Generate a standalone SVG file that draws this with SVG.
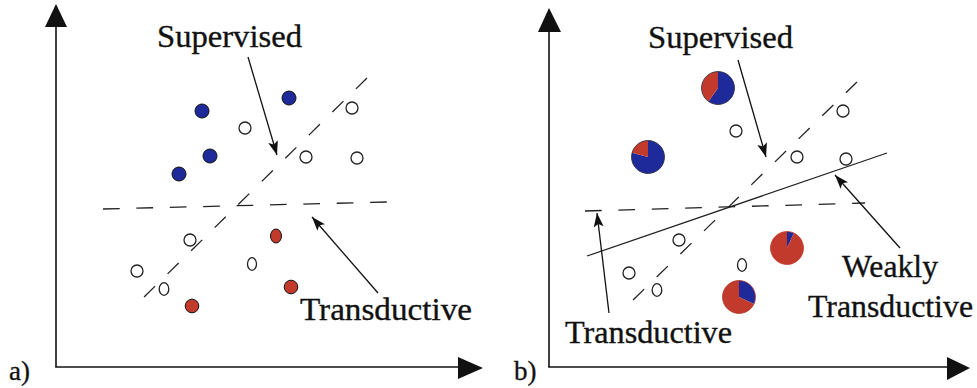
<svg xmlns="http://www.w3.org/2000/svg" width="977" height="388" viewBox="0 0 977 388">
<defs>
<style>
.ax{stroke:#111;stroke-width:1.6;fill:none}
.dash{stroke:#222;stroke-width:1.3;fill:none}
.dd{stroke-dasharray:15.5 17.5}
.dh{stroke-dasharray:16.7 16.7}
.sol{stroke:#222;stroke-width:1.3;fill:none}
.arr{stroke:#111;stroke-width:1.3;fill:none;marker-end:url(#ah)}
.open{fill:#fff;stroke:#222;stroke-width:1.3}
.blue{fill:#1f2a9a;stroke:#111;stroke-width:1}
.red{fill:#c23a2c;stroke:#111;stroke-width:1}
.pb{fill:#1f2a9a}
.pr{fill:#c23a2c}
.po{fill:none;stroke:#2a2a3a;stroke-width:0.8}
.t{font-family:"Liberation Serif","DejaVu Serif",serif;font-size:32px;fill:#111;stroke:#111;stroke-width:0.35}
.lab{font-family:"Liberation Serif","DejaVu Serif",serif;font-size:27px;fill:#111;stroke:#111;stroke-width:0.3}
.head{fill:#111}
</style>
<marker id="ah" markerUnits="userSpaceOnUse" markerWidth="16" markerHeight="12" refX="14" refY="5" orient="auto">
<path d="M0,0 L14,5 L0,10 L3,5 Z" fill="#111"/>
</marker>
</defs>

<g id="axes-a">
<line class="ax" x1="56" y1="25" x2="56" y2="367"/>
<line class="ax" x1="55.2" y1="367" x2="460" y2="367"/>
<polygon class="head" points="56,4 67,27 45,27"/>
<polygon class="head" points="483,368 458,357 458,379"/>
<text class="lab" x="9" y="380">a)</text>
</g>

<g id="axes-b">
<line class="ax" x1="549" y1="30" x2="549" y2="367"/>
<line class="ax" x1="548.2" y1="367" x2="949" y2="367"/>
<polygon class="head" points="549,8 561,32 538,32"/>
<polygon class="head" points="970,368 947,357 947,380"/>
<text class="lab" x="514" y="380">b)</text>
</g>

<g id="connectors">
<line class="dash dd" x1="367" y1="78" x2="142" y2="299"/>
<line class="dash dh" x1="103" y1="209" x2="387" y2="202"/>
<line class="arr" x1="248" y1="57" x2="277" y2="155"/>
<line class="arr" x1="378" y1="293" x2="312" y2="217"/>
<line class="dash dd" x1="857" y1="82" x2="633" y2="300"/>
<line class="dash dh" x1="585" y1="211" x2="865" y2="203"/>
<line class="sol" x1="587" y1="256" x2="887" y2="153"/>
<line class="arr" x1="738" y1="60" x2="766" y2="157"/>
<line class="arr" x1="609" y1="313" x2="597" y2="213"/>
<line class="arr" x1="900" y1="248" x2="835" y2="175"/>
</g>

<g id="points-a">
<circle class="blue" cx="202" cy="111" r="7"/>
<circle class="blue" cx="289" cy="98" r="7"/>
<circle class="blue" cx="210" cy="156" r="7"/>
<circle class="blue" cx="179" cy="174" r="7"/>
<circle class="open" cx="245" cy="128" r="6"/>
<circle class="open" cx="352" cy="108" r="6"/>
<circle class="open" cx="306" cy="157" r="6"/>
<circle class="open" cx="357" cy="158" r="6"/>
<circle class="open" cx="190" cy="240" r="6"/>
<circle class="open" cx="137" cy="271" r="6"/>
<ellipse class="open" cx="164" cy="289" rx="4.8" ry="6.3"/>
<ellipse class="open" cx="252" cy="264" rx="4.5" ry="6.3"/>
<ellipse class="red" cx="276" cy="236" rx="5.5" ry="7"/>
<circle class="red" cx="291" cy="287" r="6.8"/>
<circle class="red" cx="192" cy="306" r="6.8"/>
</g>

<g id="points-b">
<circle class="open" cx="736" cy="131" r="6"/>
<circle class="open" cx="843" cy="111" r="6"/>
<circle class="open" cx="797" cy="157" r="6"/>
<circle class="open" cx="846" cy="159" r="6"/>
<circle class="open" cx="679" cy="240" r="6"/>
<circle class="open" cx="629" cy="273" r="6"/>
<ellipse class="open" cx="657" cy="290" rx="4.8" ry="6.3"/>
<ellipse class="open" cx="742" cy="265" rx="4.5" ry="6.3"/>
</g>

<g id="pie1">
<path class="pb" d="M718,88 L718,71.5 A16.5,16.5 0 1,1 708.54,101.52 Z"/>
<path class="pr" d="M718,88 L708.54,101.52 A16.5,16.5 0 0,1 718,71.5 Z"/>
<circle class="po" cx="718" cy="88" r="16.5"/>
</g>
<g id="pie2">
<path class="pb" d="M648,157 L648,140.5 A16.5,16.5 0 1,1 632.06,152.73 Z"/>
<path class="pr" d="M648,157 L632.06,152.73 A16.5,16.5 0 0,1 648,140.5 Z"/>
<circle class="po" cx="648" cy="157" r="16.5"/>
</g>
<g id="pie3">
<path class="pb" d="M787,248 L787,231.5 A16.5,16.5 0 0,1 793.97,233.05 Z"/>
<path class="pr" d="M787,248 L793.97,233.05 A16.5,16.5 0 1,1 787,231.5 Z"/>
<circle class="po" cx="787" cy="248" r="16.5" style="stroke:#c23a2c"/>
</g>
<g id="pie4">
<path class="pb" d="M739,297 L739,280.5 A16.5,16.5 0 0,1 753.95,303.97 Z"/>
<path class="pr" d="M739,297 L753.95,303.97 A16.5,16.5 0 1,1 739,280.5 Z"/>
<circle class="po" cx="739" cy="297" r="16.5" style="stroke:#b03a30"/>
</g>

<g id="labels">
<text class="t" x="157" y="47" textLength="145" lengthAdjust="spacingAndGlyphs">Supervised</text>
<text class="t" x="300" y="320" textLength="172" lengthAdjust="spacingAndGlyphs">Transductive</text>
<text class="t" x="648" y="48" textLength="145" lengthAdjust="spacingAndGlyphs">Supervised</text>
<text class="t" x="565" y="343" textLength="167" lengthAdjust="spacingAndGlyphs">Transductive</text>
<text class="t" x="842" y="277" textLength="96" lengthAdjust="spacingAndGlyphs">Weakly</text>
<text class="t" x="808" y="317" textLength="165" lengthAdjust="spacingAndGlyphs">Transductive</text>
</g>
</svg>
